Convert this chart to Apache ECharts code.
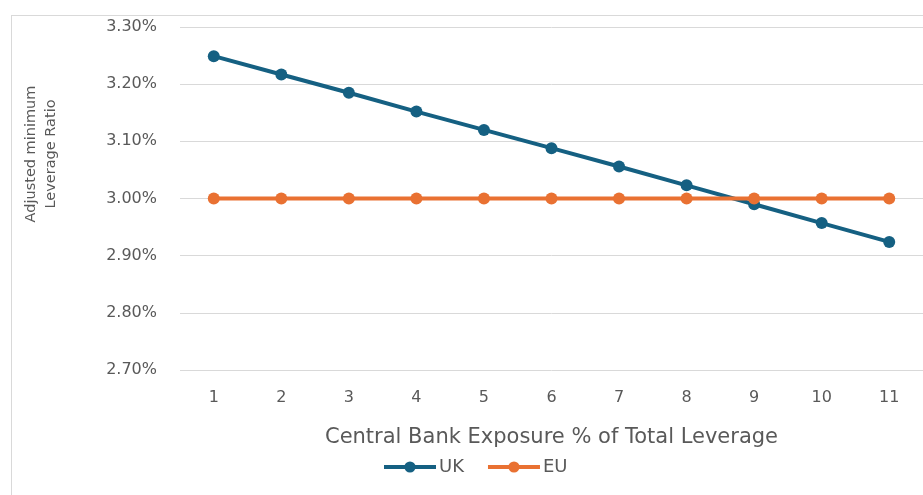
<!DOCTYPE html>
<html><head><meta charset="utf-8">
<script src="https://cdn.jsdelivr.net/npm/echarts@6/dist/echarts.min.js"></script>
<style>html,body{margin:0;padding:0;background:#fff}#c{width:923px;height:495px}#b{position:absolute;left:11px;top:15px;width:930px;height:500px;border:1px solid #d9d9d9;box-sizing:border-box;pointer-events:none}</style>
</head><body><div id="c"></div><div id="b"></div>
<script>
const categories = ['1','2','3','4','5','6','7','8','9','10','11'];
const ukValues = [3.249, 3.217, 3.185, 3.152, 3.120, 3.088, 3.056, 3.023, 2.990, 2.957, 2.924];
const euValues = [3.00, 3.00, 3.00, 3.00, 3.00, 3.00, 3.00, 3.00, 3.00, 3.00, 3.00];
const seriesNames = ['UK', 'EU'];
const yTitle = 'Adjusted minimum\nLeverage Ratio';
const xTitle = 'Central Bank Exposure % of Total Leverage';

const chart = echarts.init(document.getElementById('c'));
const font = 'DejaVu Sans';
chart.setOption({
  animation: false,
  grid: {left: 180, right: -3, top: 27, bottom: 125},
  graphic: [{
    type: 'text', x: 41, y: 154, rotation: Math.PI / 2,
    style: {text: yTitle, font: '14.5px "DejaVu Sans"', fill: '#595959', align: 'center', verticalAlign: 'middle', lineHeight: 20}
  }],
  legend: {
    data: seriesNames, top: 458, left: 382, padding: 0, itemWidth: 52, itemHeight: 14, itemGap: 22,
    lineStyle: {width: 4},
    textStyle: {fontFamily: font, fontSize: 18, color: '#595959', padding: [0, 0, 0, -2]}
  },
  xAxis: {
    type: 'category', data: categories, boundaryGap: true,
    axisLine: {show: false}, axisTick: {show: false},
    axisLabel: {fontFamily: font, fontSize: 16, color: '#595959', margin: 20},
    name: xTitle, nameLocation: 'middle', nameGap: 57,
    nameTextStyle: {fontFamily: font, fontSize: 21, color: '#595959'}
  },
  yAxis: {
    type: 'value', min: 2.7, max: 3.3, interval: 0.1,
    axisLine: {show: false}, axisTick: {show: false},
    splitLine: {lineStyle: {color: '#d9d9d9', width: 1}},
    axisLabel: {fontFamily: font, fontSize: 16, color: '#595959', margin: 23,
      formatter: v => v.toFixed(2) + '%'}
  },
  series: [
    {name: seriesNames[0], type: 'line', data: ukValues, symbol: 'circle', symbolSize: 12,
     lineStyle: {width: 4, color: '#156082'}, itemStyle: {color: '#156082'}, z: 3},
    {name: seriesNames[1], type: 'line', data: euValues, symbol: 'circle', symbolSize: 12,
     lineStyle: {width: 4, color: '#E97132'}, itemStyle: {color: '#E97132'}, z: 4}
  ]
});
</script></body></html>
